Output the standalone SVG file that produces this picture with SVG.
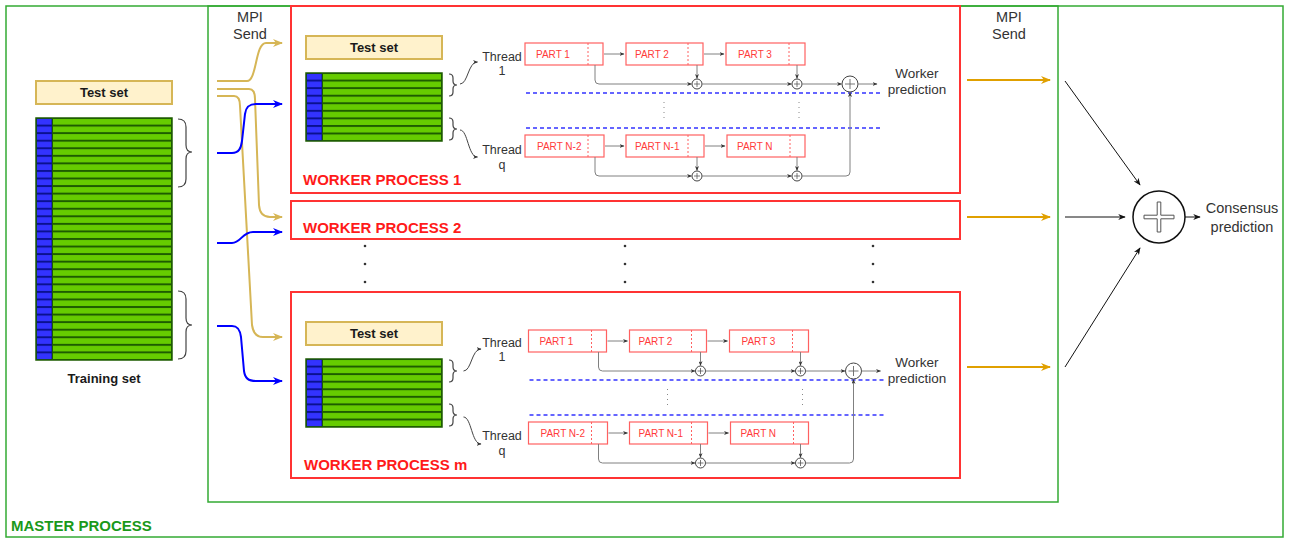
<svg xmlns="http://www.w3.org/2000/svg" xmlns:xlink="http://www.w3.org/1999/xlink" width="1291" height="539" viewBox="0 0 1291 539">
<style>
.txt{font-family:"Liberation Sans",Arial,sans-serif;fill:#333}
.b13{font-family:"Liberation Sans",Arial,sans-serif;font-weight:bold;font-size:13px;fill:#1a1a1a}
.wp{font-family:"Liberation Sans",Arial,sans-serif;font-weight:bold;font-size:15px;fill:#ff1a1a}
.mp{font-family:"Liberation Sans",Arial,sans-serif;font-weight:bold;font-size:15px;fill:#1a991a}
.pt{font-family:"Liberation Sans",Arial,sans-serif;font-size:10px;fill:#ff3b3b}
.part{fill:#fff;stroke:#ff6161;stroke-width:1.2}
.pdash{stroke:#ff6161;stroke-width:1;stroke-dasharray:2 2}
.tset{fill:#fff2cc;stroke:#d6b656;stroke-width:2}
.worker{fill:none;stroke:#ff3333;stroke-width:2}
.gray{fill:none;stroke:#808080;stroke-width:1}
.sa{fill:none;stroke:#444;stroke-width:1}
.bd{stroke:#3333ff;stroke-width:1.5;stroke-dasharray:4 3}
.dot{stroke:#888;stroke-width:1;stroke-dasharray:1 4}
.brace{fill:none;stroke:#444;stroke-width:1.2}
.gold{fill:none;stroke:#d6b656;stroke-width:2}
.blue{fill:none;stroke:#0000ff;stroke-width:2}
.orange{fill:none;stroke:#e0a000;stroke-width:2}
.blk{fill:none;stroke:#111;stroke-width:1}
</style>
<defs>
<marker id="aGold" viewBox="0 0 10 8" refX="9" refY="4" markerWidth="10" markerHeight="8" markerUnits="userSpaceOnUse" orient="auto"><path d="M0,0 L10,4 L0,8 L3,4 z" fill="#d6b656"/></marker>
<marker id="aBlue" viewBox="0 0 10 8" refX="9" refY="4" markerWidth="10" markerHeight="8" markerUnits="userSpaceOnUse" orient="auto"><path d="M0,0 L10,4 L0,8 L3,4 z" fill="#0000ff"/></marker>
<marker id="aOrange" viewBox="0 0 10 8" refX="9" refY="4" markerWidth="10" markerHeight="8" markerUnits="userSpaceOnUse" orient="auto"><path d="M0,0 L10,4 L0,8 L3,4 z" fill="#e0a000"/></marker>
<marker id="aBlk" viewBox="0 0 10 8" refX="9" refY="4" markerWidth="8" markerHeight="6" markerUnits="userSpaceOnUse" orient="auto"><path d="M0,0 L10,4 L0,8 L3,4 z" fill="#111"/></marker>
<marker id="aSm" viewBox="0 0 10 8" refX="9" refY="4" markerWidth="5" markerHeight="4" markerUnits="userSpaceOnUse" orient="auto"><path d="M0,0 L10,4 L0,8 L3,4 z" fill="#333"/></marker>
<pattern id="rows" width="136" height="7.56" patternUnits="userSpaceOnUse">
<rect width="16" height="7.56" fill="#0a1190"/>
<rect x="1" y="1" width="14.5" height="5.6" fill="#3333ff"/>
<rect x="16" width="120" height="7.56" fill="#1e5c00"/>
<rect x="17" y="1" width="118" height="5.6" fill="#66cc00"/>
</pattern>
<g id="oplus"><circle r="5" fill="#fff" stroke="#444" stroke-width="1"/><path d="M-3,0 H3 M0,-3 V3" stroke="#555" stroke-width="0.8"/></g>
<g id="oplusBig"><circle r="8" fill="#fff" stroke="#444" stroke-width="1"/><path d="M-5,0 H5 M0,-5 V5" stroke="#666" stroke-width="0.9"/></g>
<g id="wleft">
<rect class="tset" x="306" y="36" width="136" height="23"/>
<text class="b13" x="374" y="52" text-anchor="middle">Test set</text>
<g transform="translate(306,73)"><rect width="136" height="68" fill="url(#rows)" stroke="#1e5c00" stroke-width="1.5"/></g>
<path class="brace" d="M449,74 Q453,74 453,78 L453,81 Q453,85 457,85 Q453,85 453,89 L453,92 Q453,96 449,96"/>
<path class="brace" d="M449,118 Q453,118 453,122 L453,125 Q453,129 457,129 Q453,129 453,133 L453,136 Q453,140 449,140"/>
<text class="txt" font-size="12.5" text-anchor="middle" x="502" y="60.5">Thread</text>
<text class="txt" font-size="12.5" text-anchor="middle" x="502" y="75">1</text>
<text class="txt" font-size="12.5" text-anchor="middle" x="502" y="153.5">Thread</text>
<text class="txt" font-size="12.5" text-anchor="middle" x="502" y="169">q</text>
</g>
<g id="wright">
<rect class="part" x="525" y="43" width="78" height="22"/><line class="pdash" x1="588" y1="43" x2="588" y2="65"/><text class="pt" x="536" y="57.5">PART 1</text>
<rect class="part" x="626" y="43" width="77" height="22"/><line class="pdash" x1="688" y1="43" x2="688" y2="65"/><text class="pt" x="635" y="57.5">PART 2</text>
<rect class="part" x="726" y="43" width="79" height="22"/><line class="pdash" x1="789" y1="43" x2="789" y2="65"/><text class="pt" x="738" y="57.5">PART 3</text>
<rect class="part" x="525" y="135" width="79" height="22"/><line class="pdash" x1="588" y1="135" x2="588" y2="157"/><text class="pt" x="537" y="149.5">PART N-2</text>
<rect class="part" x="626" y="135" width="78" height="22"/><line class="pdash" x1="688" y1="135" x2="688" y2="157"/><text class="pt" x="635" y="149.5">PART N-1</text>
<rect class="part" x="727" y="135" width="78" height="22"/><line class="pdash" x1="790" y1="135" x2="790" y2="157"/><text class="pt" x="737" y="149.5">PART N</text>
<line class="bd" x1="526" y1="93" x2="880" y2="93"/>
<line class="bd" x1="526" y1="128" x2="880" y2="128"/>
<line class="dot" x1="664" y1="102" x2="664" y2="121"/>
<line class="dot" x1="799" y1="102" x2="799" y2="121"/>
</g>
<g id="wconn">
<path class="gray" d="M604,54 H624" marker-end="url(#aSm)"/>
<path class="gray" d="M704,54 H724" marker-end="url(#aSm)"/>
<path class="gray" d="M595,65 V80 Q595,84 599,84 H691.5" marker-end="url(#aSm)"/>
<path class="gray" d="M697,65 V78.5" marker-end="url(#aSm)"/>
<path class="gray" d="M702,84 H791.5" marker-end="url(#aSm)"/>
<path class="gray" d="M797,65 V78.5" marker-end="url(#aSm)"/>
<path class="gray" d="M802,84 H841.5" marker-end="url(#aSm)"/>
<path class="gray" d="M605,146 H624" marker-end="url(#aSm)"/>
<path class="gray" d="M705,146 H725" marker-end="url(#aSm)"/>
<path class="gray" d="M595,157 V172 Q595,176 599,176 H691.5" marker-end="url(#aSm)"/>
<path class="gray" d="M697,157 V170.5" marker-end="url(#aSm)"/>
<path class="gray" d="M702,176 H791.5" marker-end="url(#aSm)"/>
<path class="gray" d="M797,157 V170.5" marker-end="url(#aSm)"/>
<path class="gray" d="M802,176 H846 Q850,176 850,172 V92.5" marker-end="url(#aSm)"/>
<path class="gray" d="M858,84 H877" marker-end="url(#aSm)"/>
<path class="sa" d="M460,84 C468,84 468,62 477.5,62" marker-end="url(#aSm)"/>
<path class="sa" d="M460,130 C468,130 468,157 477.5,157" marker-end="url(#aSm)"/>
</g>
<g id="wcirc">
<use xlink:href="#oplus" x="697" y="84"/>
<use xlink:href="#oplus" x="797" y="84"/>
<use xlink:href="#oplusBig" x="850" y="84"/>
<use xlink:href="#oplus" x="697" y="176"/>
<use xlink:href="#oplus" x="797" y="176"/>
</g>
</defs>

<g id="master">
<rect x="6" y="6" width="1277" height="531" fill="#fff" stroke="#33aa33" stroke-width="1.5"/>
<text class="mp" x="11" y="531">MASTER PROCESS</text>
</g>
<g id="mpi-area">
<rect x="208" y="6" width="850" height="496" fill="none" stroke="#33aa33" stroke-width="1.5"/>
</g>
<g id="master-test-set">
<rect class="tset" x="36" y="81" width="136" height="23"/>
<text class="b13" x="104" y="97" text-anchor="middle">Test set</text>
</g>
<g id="training-set">
<g transform="translate(36,118)"><rect width="136" height="242" fill="url(#rows)" stroke="#1e5c00" stroke-width="1.5"/></g>
<text class="b13" x="104" y="383" text-anchor="middle">Training set</text>
<path class="brace" d="M178,119 Q186,119 186,127 L186,145 Q186,152 192,152 Q186,152 186,159 L186,179 Q186,187 178,187"/>
<path class="brace" d="M178,291 Q186,291 186,299 L186,318 Q186,325 192,325 Q186,325 186,332 L186,351 Q186,359 178,359"/>
</g>
<g id="labels">
<text class="txt" font-size="14.5" text-anchor="middle" x="250" y="22">MPI</text>
<text class="txt" font-size="14.5" text-anchor="middle" x="250" y="39">Send</text>
<text class="txt" font-size="14.5" text-anchor="middle" x="1009" y="22">MPI</text>
<text class="txt" font-size="14.5" text-anchor="middle" x="1009" y="39">Send</text>
</g>

<g id="worker1">
<rect class="worker" x="291" y="6" width="669" height="187"/>
<use xlink:href="#wleft"/>
<use xlink:href="#wright"/>
<use xlink:href="#wcirc"/>
<text class="txt" font-size="13.5" text-anchor="middle" x="917" y="78">Worker</text>
<text class="txt" font-size="13.5" text-anchor="middle" x="917" y="94">prediction</text>
<text class="wp" x="303" y="185">WORKER PROCESS 1</text>
</g>
<g id="worker2">
<rect class="worker" x="291" y="201" width="669" height="38"/>
<text class="wp" x="303" y="233">WORKER PROCESS 2</text>
</g>
<g id="ellipsis" fill="#333">
<circle cx="365" cy="246" r="1.3"/><circle cx="365" cy="264" r="1.3"/><circle cx="365" cy="282" r="1.3"/>
<circle cx="625" cy="246" r="1.3"/><circle cx="625" cy="264" r="1.3"/><circle cx="625" cy="282" r="1.3"/>
<circle cx="873" cy="246" r="1.3"/><circle cx="873" cy="264" r="1.3"/><circle cx="873" cy="282" r="1.3"/>
</g>
<g id="workerm">
<rect class="worker" x="291" y="292" width="669" height="186"/>
<use xlink:href="#wleft" transform="translate(0,286)"/>
<use xlink:href="#wright" transform="translate(3.5,287)"/>
<use xlink:href="#wcirc" transform="translate(3.5,287)"/>
<text class="txt" font-size="13.5" text-anchor="middle" x="917" y="367">Worker</text>
<text class="txt" font-size="13.5" text-anchor="middle" x="917" y="383">prediction</text>
<text class="wp" x="304" y="470">WORKER PROCESS m</text>
</g>
<g id="consensus">
<circle cx="1159" cy="217" r="26" fill="#fff" stroke="#111" stroke-width="1.5"/>
<path d="M1157.2,202 H1160.8 V215.2 H1174 V218.8 H1160.8 V232 H1157.2 V218.8 H1144 V215.2 H1157.2 Z" fill="#fff" stroke="#555" stroke-width="1"/>
<text class="txt" font-size="14.5" text-anchor="middle" x="1242" y="213">Consensus</text>
<text class="txt" font-size="14.5" text-anchor="middle" x="1242" y="232">prediction</text>
</g>

<g id="connectors">
<path class="gold" d="M217,81 L247,81 C257,81 255,43 266,43 L282,43" marker-end="url(#aGold)"/>
<path class="gold" d="M217,89 L249,89 C254,89 255,93 255,99 L259,205 C259.5,212 263,217 270,217 L282,217" marker-end="url(#aGold)"/>
<path class="gold" d="M217,96 L234,96 C238,96 240,100 240,106 L252,325 C253,332 256,337 263,337 L282,337" marker-end="url(#aGold)"/>
<path class="blue" d="M217,153 L232,153 C239,153 241,148 242,141 L245,114 C246,107 249,104 256,104 L282,104" marker-end="url(#aBlue)"/>
<path class="blue" d="M217,243 L232,243 C241,243 242,232 253,232 L282,232" marker-end="url(#aBlue)"/>
<path class="blue" d="M217,326 L232,326 C238,326 240,330 241,337 L244,371 C245,378 248,381 256,381 L282,381" marker-end="url(#aBlue)"/>
<use xlink:href="#wconn"/>
<use xlink:href="#wconn" transform="translate(3.5,287)"/>
<path class="orange" d="M967,80 H1050" marker-end="url(#aOrange)"/>
<path class="orange" d="M967,217 H1050" marker-end="url(#aOrange)"/>
<path class="orange" d="M967,367 H1050" marker-end="url(#aOrange)"/>
<path class="blk" d="M1065,81 L1140,185" marker-end="url(#aBlk)"/>
<path class="blk" d="M1065,217 L1125,217" marker-end="url(#aBlk)"/>
<path class="blk" d="M1065,367 L1140,248" marker-end="url(#aBlk)"/>
<path class="blk" d="M1185,217 L1200,217" marker-end="url(#aBlk)"/>
</g>
</svg>
